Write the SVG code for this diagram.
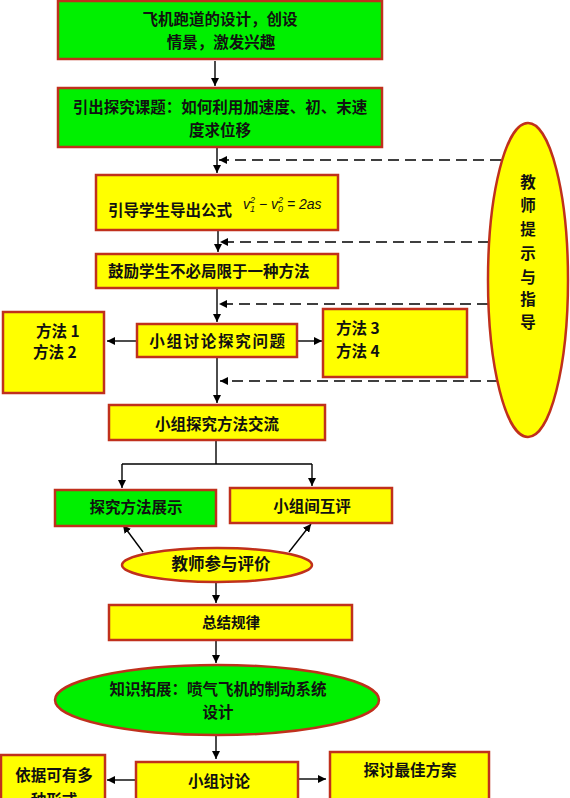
<svg xmlns="http://www.w3.org/2000/svg" width="570" height="798" viewBox="0 0 570 798">
<defs>
<marker id="ah" viewBox="0 0 10 10" refX="10" refY="5" markerWidth="8" markerHeight="8" markerUnits="userSpaceOnUse" orient="auto">
<path d="M0,0 L10,5 L0,10 z" fill="#000"/>
</marker>
</defs>
<style>
.g{fill:#00f000;stroke:#c0301c;stroke-width:2.5}
.y{fill:#ffff00;stroke:#c0301c;stroke-width:2.5}
.t{font-family:"Noto Sans CJK SC","Liberation Sans",sans-serif;font-size:15.5px;font-weight:bold;fill:#111}
.c{text-anchor:middle}
.ln{stroke:#000;stroke-width:1.4;fill:none}
.ar{stroke:#000;stroke-width:1.4;fill:none;marker-end:url(#ah)}
.da{stroke:#000;stroke-width:1.5;fill:none;stroke-dasharray:11,6;marker-end:url(#ah)}
.f{font-family:"Liberation Sans",sans-serif;font-style:italic;font-size:14px;fill:#111}
</style>
<rect width="570" height="798" fill="#fff"/>
<g id="connectors">
<line class="ar" x1="215" y1="61" x2="215" y2="86"/>
<line class="ar" x1="217" y1="148" x2="217" y2="173"/>
<line class="ar" x1="218" y1="231" x2="218" y2="252"/>
<line class="ar" x1="217" y1="289" x2="217" y2="322"/>
<line class="ar" x1="137" y1="341" x2="107" y2="341"/>
<line class="ar" x1="297" y1="341" x2="322" y2="341"/>
<line class="ar" x1="217" y1="358" x2="217" y2="403"/>
<polyline class="ln" points="216,441 216,464"/>
<polyline class="ln" points="122,464 312,464"/>
<line class="ar" x1="122" y1="464" x2="122" y2="488"/>
<line class="ar" x1="312" y1="464" x2="312" y2="486"/>
<line class="ar" x1="143" y1="552" x2="123" y2="525"/>
<line class="ar" x1="289" y1="552" x2="311" y2="524"/>
<line class="ar" x1="216" y1="582" x2="216" y2="603"/>
<line class="ar" x1="216" y1="641" x2="216" y2="663"/>
<line class="ar" x1="216" y1="735" x2="216" y2="759"/>
<line class="ar" x1="136" y1="780" x2="107" y2="780"/>
<line class="ar" x1="298" y1="779" x2="326" y2="779"/>
<line class="da" x1="501" y1="160" x2="219" y2="160"/>
<line class="da" x1="489" y1="242" x2="220" y2="242"/>
<line class="da" x1="488" y1="304" x2="219" y2="304"/>
<line class="da" x1="498" y1="381" x2="220" y2="381"/>
</g>
<g id="n1"><rect class="g" x="58" y="1" width="324" height="58"/>
<text class="t c" x="220" y="25">飞机跑道的设计，创设</text>
<text class="t c" x="221" y="48">情景，激发兴趣</text></g>
<g id="n2"><rect class="g" x="58" y="88" width="324" height="59"/>
<text class="t c" x="220" y="113">引出探究课题：如何利用加速度、初、末速</text>
<text class="t c" x="220" y="136">度求位移</text></g>
<g id="n3"><rect class="y" x="96" y="175" width="242" height="55"/>
<text class="t" x="108" y="216">引导学生导出公式</text>
<text class="f" x="243" y="209">v<tspan font-size="9" dy="-6">2</tspan><tspan font-size="9" dx="-5" dy="9">1</tspan><tspan dy="-3"> − v</tspan><tspan font-size="9" dy="-6">2</tspan><tspan font-size="9" dx="-5" dy="9">0</tspan><tspan dy="-3"> = 2as</tspan></text></g>
<g id="n4"><rect class="y" x="96" y="254" width="242" height="34"/>
<text class="t" x="108" y="277">鼓励学生不必局限于一种方法</text></g>
<g id="n5"><rect class="y" x="137" y="324" width="160" height="33"/>
<text class="t c" x="218" y="347" letter-spacing="1.7">小组讨论探究问题</text></g>
<g id="n6"><rect class="y" x="3" y="312" width="101" height="81"/>
<text class="t" x="36" y="337">方法 1</text>
<text class="t" x="33" y="358">方法 2</text></g>
<g id="n7"><rect class="y" x="323" y="309" width="144" height="68"/>
<text class="t" x="336" y="334">方法 3</text>
<text class="t" x="336" y="357">方法 4</text></g>
<g id="n8"><ellipse class="y" cx="528" cy="280" rx="40" ry="157"/>
<text class="t c" x="528" y="188">教</text>
<text class="t c" x="528" y="211">师</text>
<text class="t c" x="528" y="235">提</text>
<text class="t c" x="528" y="259">示</text>
<text class="t c" x="528" y="283">与</text>
<text class="t c" x="528" y="305">指</text>
<text class="t c" x="528" y="328">导</text></g>
<g id="n9"><rect class="y" x="109" y="405" width="216" height="35"/>
<text class="t c" x="217" y="430">小组探究方法交流</text></g>
<g id="n10"><rect class="g" x="55" y="490" width="161" height="36"/>
<text class="t c" x="136" y="513">探究方法展示</text></g>
<g id="n11"><rect class="y" x="230" y="488" width="162" height="35"/>
<text class="t c" x="312" y="512">小组间互评</text></g>
<g id="n12"><ellipse class="y" cx="217" cy="565" rx="95" ry="17"/>
<text class="t c" x="221" y="570" style="font-size:16.5px">教师参与评价</text></g>
<g id="n13"><rect class="y" x="109" y="605" width="243" height="35"/>
<text class="t c" x="231" y="628" style="font-size:14.5px">总结规律</text></g>
<g id="n14"><ellipse class="g" cx="217" cy="700" rx="162" ry="35"/>
<text class="t c" x="218" y="695">知识拓展：喷气飞机的制动系统</text>
<text class="t c" x="218" y="718">设计</text></g>
<g id="n15"><rect class="y" x="136" y="762" width="162" height="45"/>
<text class="t c" x="219" y="787">小组讨论</text></g>
<g id="n16"><rect class="y" x="1" y="755" width="104" height="55"/>
<text class="t c" x="54" y="781">依据可有多</text>
<text class="t c" x="54" y="806">种形式</text></g>
<g id="n17"><rect class="y" x="330" y="752" width="159" height="55"/>
<text class="t c" x="410" y="776">探讨最佳方案</text></g>
</svg>
